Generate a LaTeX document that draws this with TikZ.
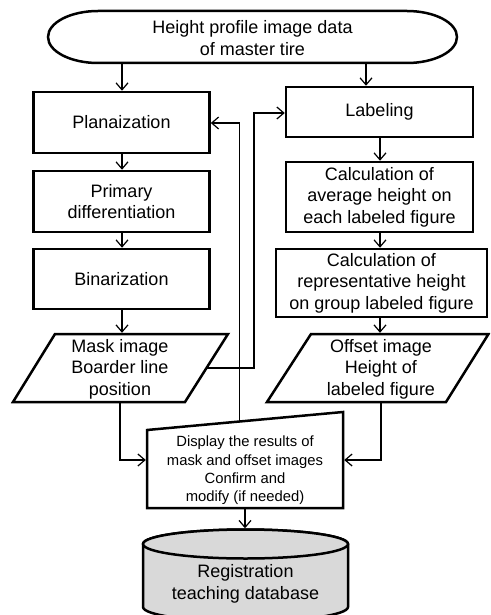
\documentclass[tikz,border=0pt]{standalone}
\usepackage{fontspec}
\setmainfont{Liberation Sans}
\usetikzlibrary{arrows.meta,calc}
\definecolor{dbgray}{gray}{0.85}
\begin{document}
\begin{tikzpicture}[x=1pt,y=-1pt,
  shapeline/.style={line width=2.5pt, line join=miter},
  box/.style={draw, line width=2.5pt, align=center, inner sep=0pt, font=\fontsize{18}{21.5}\selectfont},
  txt/.style={align=center, inner sep=0pt, font=\fontsize{18}{21.5}\selectfont},
  small/.style={align=center, inner sep=0pt, font=\fontsize{14.8}{18.3}\selectfont},
  conn/.style={line width=1.2pt, -{Straight Barb[length=7pt,width=12pt,line width=1.2pt]}}]
\clip (0,0) rectangle (490,615);
\useasboundingbox (0,0) rectangle (490,615);
% terminal
\draw[shapeline] (98,11) -- (407,11) arc[start angle=-90,end angle=90,x radius=50,y radius=26]
  -- (98,63) arc[start angle=90,end angle=270,x radius=50,y radius=26] -- cycle;
\node[txt] (start) at (252.5,38) {Height profile image data\\of master tire};
% left column
\node[box, minimum width=176pt, minimum height=61pt] (plan) at (121.5,122.5) {Planaization};
\node[box, minimum width=176pt, minimum height=61pt] (prim) at (121.5,201.5) {Primary\\differentiation};
\node[box, minimum width=176pt, minimum height=60pt] (bin) at (121.5,279) {Binarization};
% right column
\node[box, minimum width=187pt, minimum height=50pt] (lab) at (379.5,112) {Labeling};
\node[box, minimum width=187pt, minimum height=70pt] (calc1) at (379.5,197) {Calculation of\\average height on\\each labeled figure};
\node[box, minimum width=211pt, minimum height=68pt] (calc2) at (381.5,283) {Calculation of\\representative height\\on group labeled figure};
% parallelograms
\draw[shapeline] (55,334) -- (228,334) -- (185,402) -- (13,402) -- cycle;
\node[txt] (mask) at (120,369) {Mask image\\Boarder line\\position};
\draw[shapeline] (311,334) -- (488.5,334) -- (446,402) -- (267,402) -- cycle;
\node[txt] (offset) at (381,369) {Offset image\\Height of\\labeled figure};
% display
\draw[shapeline] (147,430) -- (343,412) -- (343,508) -- (147,508) -- cycle;
\node[small] (disp) at (245,470.5) {Display the results of\\mask and offset images\\Confirm and\\modify (if needed)};
% database
\draw[shapeline, fill=dbgray] (143,544) -- (143,607) arc[start angle=180,end angle=0,x radius=102.5,y radius=14.5]
  -- (348,544) arc[start angle=0,end angle=-180,x radius=102.5,y radius=14.5] -- cycle;
\draw[shapeline, fill=dbgray] (245.5,544) ellipse[x radius=102.5, y radius=14.5];
\node[txt] (db) at (245.5,584) {Registration\\teaching database};
% coordinates
\coordinate (tL) at (122,64);
\coordinate (tR) at (366,64);
\coordinate (maskT) at (122,332.8);
\coordinate (offT) at (380,332.8);
\coordinate (maskB) at (120,403);
\coordinate (offB) at (381,403);
\coordinate (dispL) at (145.8,460);
\coordinate (dispR) at (344.2,460);
\coordinate (dispB) at (245,509);
\coordinate (dbT) at (245,528.3);
\coordinate (mR) at (206.5,368);
\coordinate (fb1) at (254,113);
\coordinate (dT) at (239.5,421.5);
\coordinate (fb2) at (239.5,123);
% connectors
\draw[conn] (tL) -- (tL |- plan.north);
\draw[conn] (tR) -- (tR |- lab.north);
\draw[conn] (plan.south -| tL) -- (prim.north -| tL);
\draw[conn] (prim.south -| tL) -- (bin.north -| tL);
\draw[conn] (bin.south -| tL) -- (maskT);
\draw[conn] (lab.south -| offT) -- (calc1.north -| offT);
\draw[conn] (calc1.south -| offT) -- (calc2.north -| offT);
\draw[conn] (calc2.south -| offT) -- (offT);
\draw[conn] (maskB) |- (dispL);
\draw[conn] (offB) |- (dispR);
\draw[conn] (dispB) -- (dbT);
\draw[conn] (mR) -| (fb1) -- (fb1 -| lab.west);
\draw[conn] (dT) -- (fb2) -- (fb2 -| plan.east);
\end{tikzpicture}
\end{document}
